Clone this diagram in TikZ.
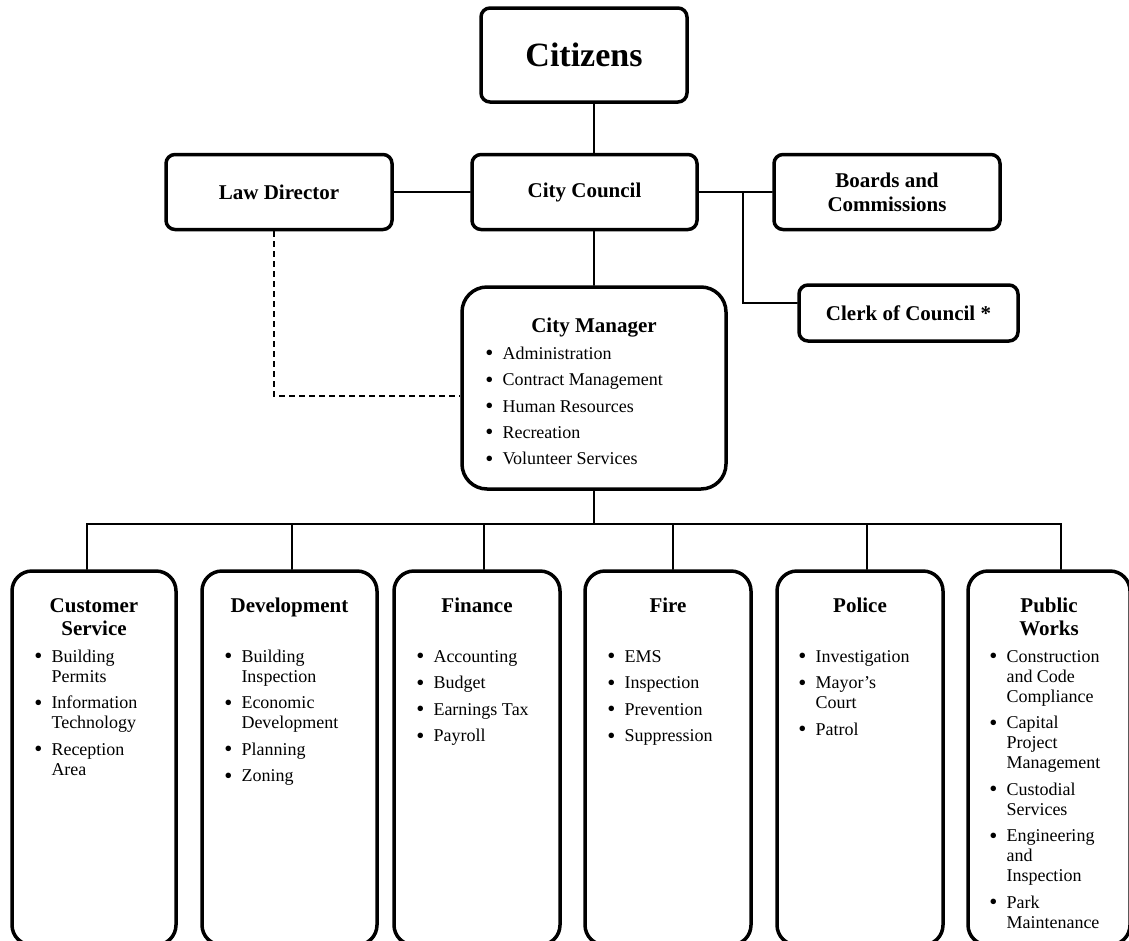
\documentclass[tikz,border=0pt]{standalone}
\usepackage{fontspec}
\setmainfont{Liberation Serif}
\newcommand{\bul}{\raisebox{-1.5pt}{\fontsize{23}{20}\selectfont\textbullet}}
\begin{document}
\begin{tikzpicture}[x=1pt,y=-1pt,line cap=round,
  box/.style={draw,line width=3.5pt,rounded corners=9pt,inner sep=0pt,align=center,font=\bfseries\fontsize{21}{24}\selectfont},
  dbox/.style={draw,line width=3.5pt,rounded corners=20pt,minimum height=374pt},
  dtitle/.style={anchor=north,inner sep=0pt,font=\bfseries\fontsize{21}{23}\selectfont},
  dlist/.style={anchor=north west,inner sep=0pt,font=\fontsize{18}{20}\selectfont},
  link/.style={line width=1.3pt},
  dashlink/.style={line width=2.8pt,line cap=butt,dash pattern=on 6pt off 4pt}]
\useasboundingbox (0,0) rectangle (1129,940);
% top of the chart
\node[box,minimum width=206pt,minimum height=94pt,font=\bfseries\fontsize{34}{38}\selectfont] (cit) at (584,55) {Citizens};
\node[box,minimum width=226pt,minimum height=75pt] (ld) at (279,192) {Law Director};
\node[box,minimum width=225pt,minimum height=75pt] (cc) at (584.5,192) {City Council};
\node[box,minimum width=226pt,minimum height=75pt] (bc) at (887,192) {Boards and\\Commissions};
\node[box,minimum width=219pt,minimum height=56pt] (cl) at (908.5,313) {Clerk of Council *};
\node[box,rounded corners=25pt,minimum width=264pt,minimum height=202pt] (cm) at (594,388) {};
\node[dtitle] (cmt) at ([yshift=-31pt]cm.north) {\begin{tabular}{@{}c@{}}City Manager\end{tabular}};
\node[dlist] (cml) at ([xshift=25pt,yshift=-60pt]cm.north west) {\begin{tabular}{@{}l@{\hspace{9pt}}l@{}}
\bul & Administration\\[6.3pt]
\bul & Contract Management\\[6.3pt]
\bul & Human Resources\\[6.3pt]
\bul & Recreation\\[6.3pt]
\bul & Volunteer Services
\end{tabular}};
\coordinate (br) at (743,192);
\coordinate (bus) at (594,524);
% departments
\node[dbox,minimum width=164pt] (cs) at (94,758) {};
\node[dbox,minimum width=175pt] (dev) at (289.5,758) {};
\node[dbox,minimum width=166pt] (fin) at (477,758) {};
\node[dbox,minimum width=166pt] (fire) at (668,758) {};
\node[dbox,minimum width=166pt] (pol) at (860,758) {};
\node[dbox,minimum width=162pt] (pw) at (1049,758) {};
\node[dtitle] (cst) at ([yshift=-27pt]cs.north) {\begin{tabular}{@{}c@{}}Customer\\Service\end{tabular}};
\node[dtitle] (devt) at ([yshift=-27pt]dev.north) {\begin{tabular}{@{}c@{}}Development\end{tabular}};
\node[dtitle] (fint) at ([yshift=-27pt]fin.north) {\begin{tabular}{@{}c@{}}Finance\end{tabular}};
\node[dtitle] (firet) at ([yshift=-27pt]fire.north) {\begin{tabular}{@{}c@{}}Fire\end{tabular}};
\node[dtitle] (polt) at ([yshift=-27pt]pol.north) {\begin{tabular}{@{}c@{}}Police\end{tabular}};
\node[dtitle] (pwt) at ([yshift=-27pt]pw.north) {\begin{tabular}{@{}c@{}}Public\\Works\end{tabular}};
\node[dlist] (csl) at ([xshift=24pt,yshift=-79pt]cs.north west) {\begin{tabular}{@{}l@{\hspace{9pt}}l@{}}
\bul & Building\\ & Permits\\[6.5pt]
\bul & Information\\ & Technology\\[6.5pt]
\bul & Reception\\ & Area
\end{tabular}};
\node[dlist] (devl) at ([xshift=24pt,yshift=-79pt]dev.north west) {\begin{tabular}{@{}l@{\hspace{9pt}}l@{}}
\bul & Building\\ & Inspection\\[6.5pt]
\bul & Economic\\ & Development\\[6.5pt]
\bul & Planning\\[6.5pt]
\bul & Zoning
\end{tabular}};
\node[dlist] (finl) at ([xshift=24pt,yshift=-79pt]fin.north west) {\begin{tabular}{@{}l@{\hspace{9pt}}l@{}}
\bul & Accounting\\[6.5pt]
\bul & Budget\\[6.5pt]
\bul & Earnings Tax\\[6.5pt]
\bul & Payroll
\end{tabular}};
\node[dlist] (firel) at ([xshift=24pt,yshift=-79pt]fire.north west) {\begin{tabular}{@{}l@{\hspace{9pt}}l@{}}
\bul & EMS\\[6.5pt]
\bul & Inspection\\[6.5pt]
\bul & Prevention\\[6.5pt]
\bul & Suppression
\end{tabular}};
\node[dlist] (poll) at ([xshift=23pt,yshift=-79pt]pol.north west) {\begin{tabular}{@{}l@{\hspace{9pt}}l@{}}
\bul & Investigation\\[6.5pt]
\bul & Mayor's\\ & Court\\[6.5pt]
\bul & Patrol
\end{tabular}};
\node[dlist] (pwl) at ([xshift=23pt,yshift=-79pt]pw.north west) {\begin{tabular}{@{}l@{\hspace{9pt}}l@{}}
\bul & Construction\\ & and Code\\ & Compliance\\[6.5pt]
\bul & Capital\\ & Project\\ & Management\\[6.5pt]
\bul & Custodial\\ & Services\\[6.5pt]
\bul & Engineering\\ & and\\ & Inspection\\[6.5pt]
\bul & Park\\ & Maintenance
\end{tabular}};
% connectors
\draw[link] (cit.south -| cm.north) -- (cc.north -| cm.north);
\draw[link] (cc.south -| cm.north) -- (cm.north);
\draw[link] (ld.east) -- (cc.west);
\draw[link] (cc.east) -- (bc.west);
\draw[link] (br) |- ([yshift=10pt]cl.west);
\draw[dashlink] ([xshift=-5pt]ld.south) |- ([yshift=-8pt]cm.west);
\draw[link] (cm.south) -- (bus);
\foreach \n/\d in {cs/-7,dev/2.5,fin/7,fire/5,pol/7,pw/12}
  \draw[link] ([xshift=\d pt]\n.north) |- (bus);
\end{tikzpicture}
\end{document}
